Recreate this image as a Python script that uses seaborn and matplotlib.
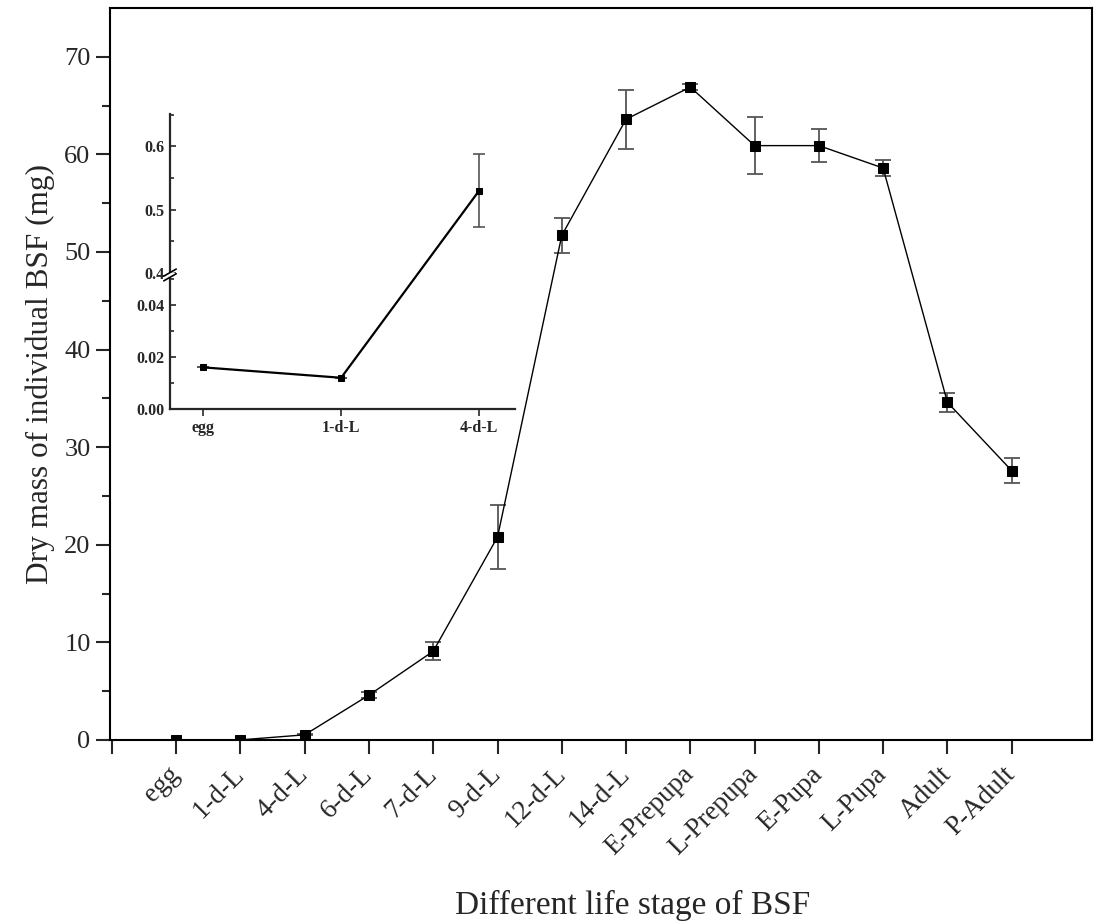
import numpy as np
import pandas as pd
import matplotlib
matplotlib.use("Agg")
import matplotlib.pyplot as plt
import seaborn as sns

stages = ["egg", "1-d-L", "4-d-L", "6-d-L", "7-d-L", "9-d-L", "12-d-L", "14-d-L",
          "E-Prepupa", "L-Prepupa", "E-Pupa", "L-Pupa", "Adult", "P-Adult"]
mass = [0.016, 0.012, 0.53, 4.6, 9.1, 20.8, 51.7, 63.6, 66.9, 60.9, 60.9, 58.6, 34.6, 27.6]
err = [0.001, 0.001, 0.06, 0.3, 0.9, 3.3, 1.8, 3.0, 0.3, 2.9, 1.7, 0.8, 1.0, 1.3]

inset_stages = ["egg", "1-d-L", "4-d-L"]
inset_mass = [0.016, 0.012, 0.53]
inset_err = [0.0, 0.0, 0.058]

main_yticks = [0, 10, 20, 30, 40, 50, 60, 70]
inset_yticks = [0.0, 0.02, 0.04, 0.4, 0.5, 0.6]
inset_ylabels = ["0.00", "0.02", "0.04", "0.4", "0.5", "0.6"]

sns.set_theme(style="ticks")
plt.rcParams["font.family"] = ["Liberation Serif", "DejaVu Serif"]

fig = plt.figure(figsize=(10.97, 9.24), dpi=100)
ax = fig.add_axes([110/1097, 184/924, 982/1097, 732/924])

df = pd.DataFrame({"pos": np.arange(len(stages)), "mass": mass, "err": err})
sns.lineplot(data=df, x="pos", y="mass", ax=ax, color="black", lw=1.0,
             marker="s", markersize=7, markeredgecolor="black", zorder=3)
ax.errorbar(df["pos"], df["mass"], yerr=df["err"], fmt="none", ecolor="#555555",
            elinewidth=1.3, capsize=6, capthick=1.3, zorder=2)

ax.set_xlim(-1.03, 14.25)
ax.set_ylim(0, 75.0)
ax.set_xticks(np.arange(-1, 14))
ax.set_xticklabels([""] + stages, rotation=45, ha="right", va="center",
                   rotation_mode="anchor", fontsize=19.5)
ax.set_yticks(main_yticks)
ax.set_yticks(np.arange(5, 75, 10), minor=True)
ax.tick_params(axis="y", which="major", labelsize=19, length=10, width=1.5,
               direction="out", pad=4)
ax.tick_params(axis="y", which="minor", length=6, width=1.5, direction="out")
ax.tick_params(axis="x", which="major", length=10, width=1.5, direction="out", pad=12)
ax.set_xlabel("Different life stage of BSF", fontsize=24)
ax.xaxis.set_label_coords(0.5326, -0.205)
ax.set_ylabel("Dry mass of individual BSF (mg)", fontsize=22.5)
ax.yaxis.set_label_coords(-0.056, 0.5)
for s in ax.spines.values():
    s.set_linewidth(1.5)
    s.set_color("black")

# Inset with a broken (piecewise) y axis
LOW_TOP = 0.0515
LOW_SCALE = 2600.0
UP_BASE = 0.397
UP_SCALE = 633.0
BREAK_PX = LOW_TOP * LOW_SCALE


def fwd(y):
    y = np.asarray(y, dtype=float)
    return np.where(y <= (LOW_TOP + UP_BASE) / 2, y * LOW_SCALE,
                    BREAK_PX + (y - UP_BASE) * UP_SCALE)


def inv(p):
    p = np.asarray(p, dtype=float)
    return np.where(p <= BREAK_PX, p / LOW_SCALE, UP_BASE + (p - BREAK_PX) / UP_SCALE)


ins = fig.add_axes([170/1097, (924-409)/924, 345/1097, 295/924])
ins.set_yscale("function", functions=(fwd, inv))
idf = pd.DataFrame({"pos": np.arange(3), "mass": inset_mass, "err": inset_err})
sns.lineplot(data=idf, x="pos", y="mass", ax=ins, color="black", lw=1.6,
             marker="s", markersize=5, markeredgecolor="black", zorder=3)
ins.errorbar(idf["pos"], idf["mass"], yerr=idf["err"], fmt="none", ecolor="#555555",
             elinewidth=1.2, capsize=4, capthick=1.2, zorder=2)
ins.set_xlim(-0.24, 2.26)
ins.set_ylim(0, 0.651)
ins.set_xticks(np.arange(3))
ins.set_xticklabels(inset_stages, fontsize=11.5, fontweight="bold")
ins.set_yticks(inset_yticks)
ins.set_yticklabels(inset_ylabels, fontsize=11.5, fontweight="bold")
ins.set_yticks([0.01, 0.03, 0.05, 0.45, 0.55, 0.65], minor=True)
ins.tick_params(axis="x", which="major", length=5, width=1.2, direction="out", pad=3)
ins.tick_params(axis="y", which="major", length=4, width=1.2, direction="in", pad=4)
ins.tick_params(axis="y", which="minor", length=3, width=1.2, direction="in")
ins.set_xlabel("")
ins.set_ylabel("")
ins.spines["top"].set_visible(False)
ins.spines["right"].set_visible(False)
ins.spines["left"].set_linewidth(1.6)
ins.spines["bottom"].set_linewidth(1.6)
ins.patch.set_alpha(0)

# break marks on the inset y axis
bfrac = BREAK_PX / fwd(0.651)
ins.plot([-0.01, 0.01], [bfrac, bfrac], transform=ins.transAxes, color="white",
         lw=4, clip_on=False, zorder=4)
for dy in (-0.008, 0.008):
    ins.plot([-0.018, 0.018], [bfrac + dy - 0.012, bfrac + dy + 0.012],
             transform=ins.transAxes, color="black", lw=1.2, clip_on=False, zorder=5)

fig.savefig("out.png", dpi=100)
